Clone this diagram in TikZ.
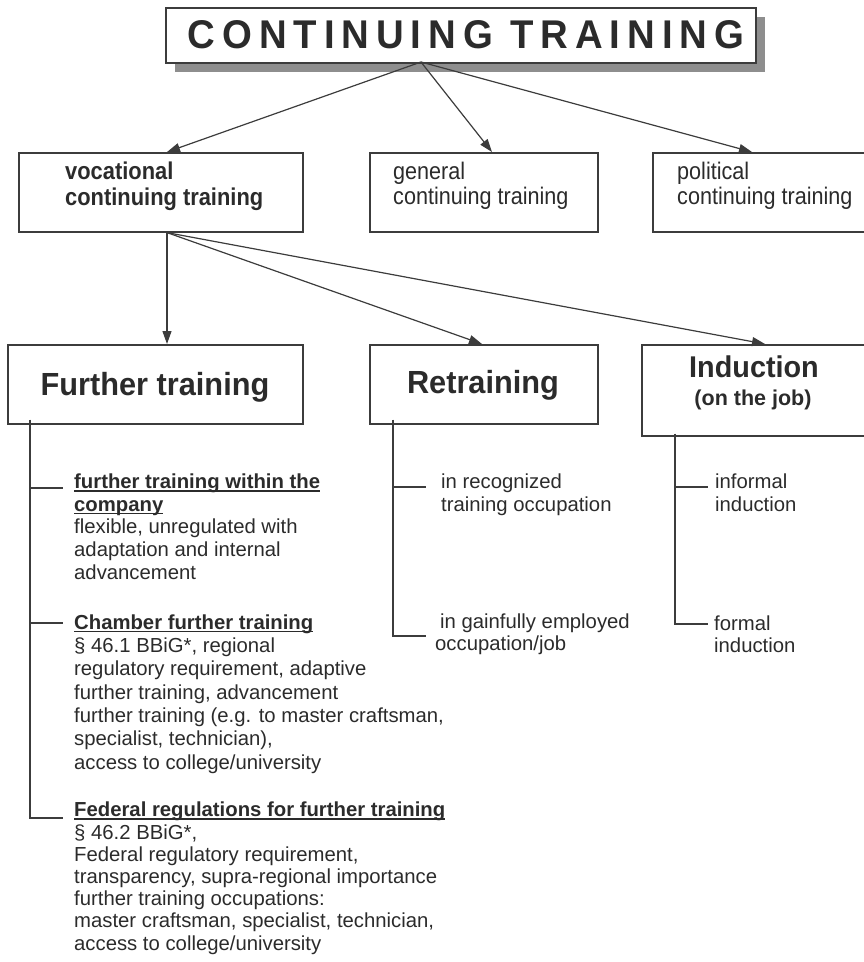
\documentclass[tikz,border=0pt]{standalone}
\usepackage{fontspec}
\usetikzlibrary{arrows.meta,shadows}
\setmainfont{Liberation Sans}
\newfontfamily\narrowsf[FakeStretch=0.9]{Liberation Sans}
\newfontfamily\headsf[FakeStretch=0.96]{Liberation Sans}
\newfontfamily\titlesf[LetterSpace=18]{Liberation Sans}
\definecolor{ink}{HTML}{2B2B2B}
\definecolor{rulegray}{HTML}{3C3C3C}
\definecolor{shadowgray}{HTML}{8E8E8E}
\newsavebox\hdbox
\newcommand\hdline[1]{\sbox\hdbox{\bfseries #1}\rlap{\rule[-3pt]{\wd\hdbox}{1.5pt}}\usebox\hdbox}

\begin{document}
\begin{tikzpicture}[x=1pt,y=-1pt,
    box/.style={draw=rulegray,line width=1.6pt,fill=white,anchor=north west,inner sep=0pt},
    arr/.style={draw=rulegray,line width=1.2pt,-{Triangle[length=13pt,width=9pt]}},
    branch/.style={draw=rulegray,line width=1.2pt},
    mid/.style={font=\narrowsf\fontsize{24}{25}\selectfont,text=ink,anchor=base west,align=left,inner sep=0pt},
    head/.style={font=\headsf\bfseries\fontsize{32}{34}\selectfont,text=ink,anchor=base,inner sep=0pt},
    item/.style={font=\fontsize{20.3}{22.6}\selectfont,text=ink,anchor=base west,align=left,inner sep=0pt}]
  \useasboundingbox (0,0) rectangle (863,962);

  % title
  \node[box,line width=2pt,minimum width=590pt,minimum height=55pt,
    drop shadow={shadow xshift=9pt,shadow yshift=-9pt,fill=shadowgray,opacity=1}] (title) at (165,7) {};
  \node[anchor=base,text=ink,inner sep=0pt] (title-t) at (466,48)
    {\resizebox{556pt}{28pt}{\titlesf\bfseries CONTINUING TRAINING}};

  % kinds of continuing training (nodes sit on their last baseline)
  \node[box,minimum width=284pt,minimum height=79pt] (voc) at (18,152) {};
  \node[box,minimum width=228pt,minimum height=79pt] (gen) at (369,152) {};
  \node[box,minimum width=215pt,minimum height=79pt] (pol) at (652,152) {};
  \node[mid,font=\narrowsf\bfseries\fontsize{24.3}{26}\selectfont] (voc-t) at (65,205) {vocational\\continuing training};
  \node[mid] (gen-t) at (393,204) {general\\continuing training};
  \node[mid] (pol-t) at (677,204) {political\\continuing training};

  % forms of vocational training
  \node[box,minimum width=295pt,minimum height=79pt] (further) at (7,344) {};
  \node[box,minimum width=228pt,minimum height=79pt] (retrain) at (369,344) {};
  \node[box,minimum width=226pt,minimum height=91pt] (induct) at (641,344) {};
  \node[head] (further-t) at (155,395) {Further training};
  \node[head] (retrain-t) at (483,393) {Retraining};
  \node[head,font=\headsf\bfseries\fontsize{30}{32}\selectfont] (induct-t) at (754,377) {Induction};
  \node[head,font=\bfseries\fontsize{21.5}{23}\selectfont] (job-t) at (753,405) {(on the job)};

  \coordinate (hub1) at (421,62);
  \coordinate (hub2) at ([xshift=149pt]voc.south west);
  \begin{scope}
    \draw[arr] (hub1) -- ([xshift=149pt]voc.north west);
    \draw[arr] (hub1) -- ([xshift=123pt]gen.north west);
    \draw[arr] (hub1) -- ([xshift=100pt]pol.north west);
    \draw[arr] (hub2) -- ([xshift=160pt]further.north west);
    \draw[arr] (hub2) -- ([xshift=113pt]retrain.north west);
    \draw[arr] (hub2) -- ([xshift=124pt]induct.north west);
  \end{scope}

  % further training
  \draw[branch] ([xshift=23pt,yshift=5pt]further.south west) -- (30,818) -- (63,818);
  \draw[branch] (30,488) -- (63,488);
  \draw[branch] (30,623) -- (63,623);
  \node[item] (company) at (74,579)
    {\hdline{further training within the}\\\hdline{company}\\flexible, unregulated with\\adaptation and internal\\advancement};
  \node[item,font=\fontsize{20.3}{23.3}\selectfont] (chamber) at (74,769)
    {\hdline{Chamber further training}\\§ 46.1 BBiG*, regional\\regulatory requirement, adaptive\\further training, advancement\\further training (e.g. to master craftsman,\\specialist, technician),\\access to college/university};
  \node[item,font=\fontsize{20.3}{22.2}\selectfont] (federal) at (74,950)
    {\hdline{Federal regulations for further training}\\§ 46.2 BBiG*,\\Federal regulatory requirement,\\transparency, supra-regional importance\\further training occupations:\\master craftsman, specialist, technician,\\access to college/university};

  % retraining
  \draw[branch] ([xshift=24pt,yshift=5pt]retrain.south west) -- (393,636) -- (426,636);
  \draw[branch] (393,487) -- (426,487);
  \node[item,font=\fontsize{20.3}{23.5}\selectfont] (recog) at (441,511.5) {in recognized\\training occupation};
  \node[item,font=\fontsize{20.3}{22}\selectfont] (gainful) at (435,650) {\hspace*{5pt}in gainfully employed\\occupation/job};

  % induction
  \draw[branch] ([xshift=34pt,yshift=3pt]induct.south west) -- (675,624) -- (708,624);
  \draw[branch] (675,487) -- (708,487);
  \node[item,font=\fontsize{20.3}{23.5}\selectfont] (informal) at (715,511.5) {informal\\induction};
  \node[item,font=\fontsize{20.3}{22}\selectfont] (formal) at (714,652) {formal\\induction};
\end{tikzpicture}
\end{document}
